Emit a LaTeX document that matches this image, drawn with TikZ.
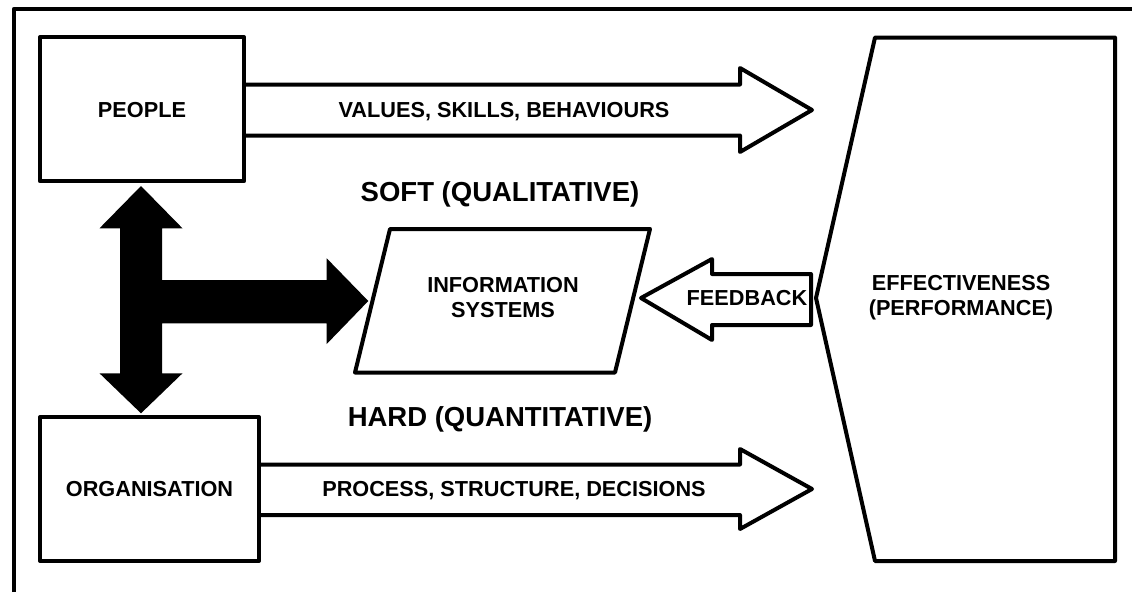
\documentclass[tikz,border=0pt]{standalone}
\usepackage{fontspec}
\setmainfont{Liberation Sans}
\begin{document}
\begin{tikzpicture}[x=1pt,y=-1pt,line join=round,
  thick line/.style={draw=black,line width=4pt},
  boxnode/.style={thick line,rectangle,inner sep=0pt},
  lbl/.style={font=\bfseries\fontsize{21.7}{25}\selectfont,inner sep=0pt,text height=15.5pt,text depth=0pt},
  mlbl/.style={font=\bfseries\fontsize{21.7}{25}\selectfont,inner sep=0pt,align=center},
  big/.style={font=\bfseries\fontsize{27.5}{32}\selectfont,inner sep=0pt,text height=19.7pt,text depth=0pt},
  hollow/.style={thick line,fill=white},
  solidarrow/.style={fill=black,draw=none}]
\useasboundingbox (0,0) rectangle (1132,592);
% outer frame (left and top sides visible)
\draw[line width=4.5pt] (14,592) -- (14,9) -- (1132,9);
% hollow arrows (drawn first, boxes go over their open ends)
\draw[hollow] (244,84.5) -- (740,84.5) -- (740,68) -- (812,110) -- (740,152) -- (740,135.5) -- (244,135.5);
\draw[hollow] (259,464.5) -- (740,464.5) -- (740,449) -- (812,489) -- (740,529) -- (740,515) -- (259,515);
% feedback arrow
\draw[hollow] (811,274) -- (712,274) -- (712,259) -- (641,298) -- (712,340) -- (712,325) -- (811,325) -- cycle;
% effectiveness shape
\draw[thick line] (875,37.5) -- (1115,37.5) -- (1115,561) -- (875,561) -- (816,298) -- cycle;
\node[mlbl] (eff) at (961,298) {EFFECTIVENESS\\(PERFORMANCE)};
% people and organisation
\node[boxnode,minimum width=204pt,minimum height=144pt] (people) at (142,109.25) {};
\node[lbl] at (people.center) {PEOPLE};
\node[boxnode,minimum width=219pt,minimum height=144pt] (org) at (149.5,489) {};
\node[lbl] at (org.center) {ORGANISATION};
\node[lbl] (vsb) at (504,110) {VALUES, SKILLS, BEHAVIOURS};
\node[lbl] (psd) at (514,489) {PROCESS, STRUCTURE, DECISIONS};
% information systems
\draw[thick line] (355,372.5) -- (615,372.5) -- (650,229) -- (390,229) -- cycle;
\node[mlbl] (is) at (503,298) {INFORMATION\\SYSTEMS};
\node[lbl] (fb) at (747,298) {FEEDBACK};
% black double + right arrow
\fill[solidarrow] (141,186) -- (182.5,228.3) -- (162,228.3) -- (162,280) -- (326.7,280) -- (326.7,258.3)
  -- (368.3,301) -- (326.7,344) -- (326.7,323.3) -- (162,323.3) -- (162,373.3) -- (182.5,373.3)
  -- (141,413.3) -- (99.5,373.3) -- (120,373.3) -- (120,228.3) -- (99.5,228.3) -- cycle;
% soft / hard labels
\node[big] (soft) at (500,192) {SOFT (QUALITATIVE)};
\node[big] (hard) at (500,417) {HARD (QUANTITATIVE)};
\end{tikzpicture}
\end{document}
